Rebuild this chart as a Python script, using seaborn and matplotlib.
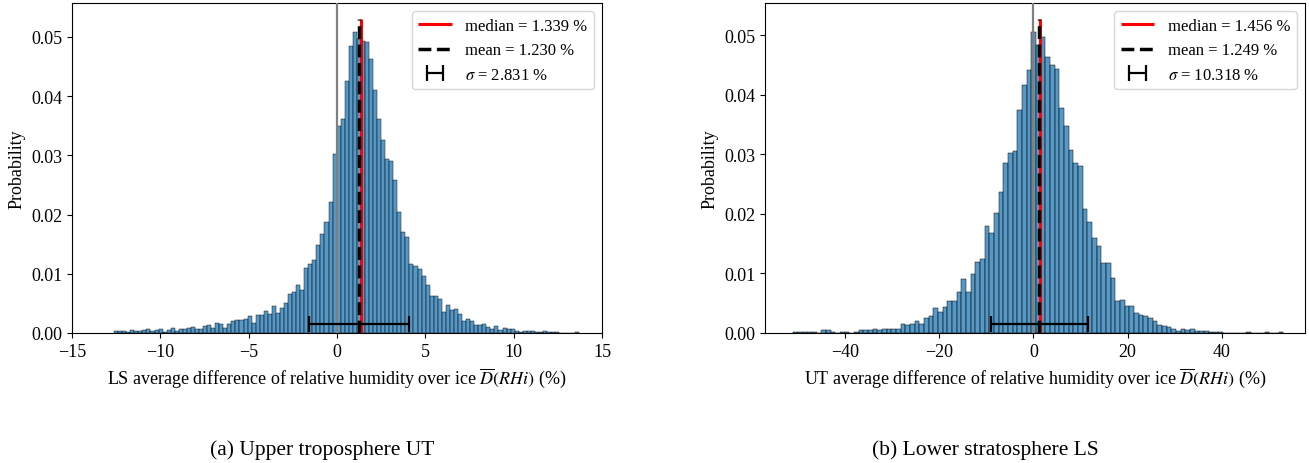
import numpy as np
import pandas as pd
import matplotlib
matplotlib.use("Agg")
import matplotlib.pyplot as plt
import seaborn as sns

# ---------------- data ----------------
# Left panel: probability per bin, 115 equal bins over left_range
left_range = (-12.62, 13.72)
left_heights = [
    0.0003, 0.0003, 0.0003, 0.0002, 0.0005, 0.0003, 0.0003, 0.00045, 0.0007, 0.00035,
    0.0005, 0.0007, 0.0002, 0.00045, 0.00085, 0.00035, 0.0006, 0.0007, 0.0008, 0.00095,
    0.0007, 0.0007, 0.0011, 0.0013, 0.0009, 0.0017, 0.0015, 0.0009, 0.0015, 0.0020,
    0.00225, 0.00225, 0.0024, 0.0029, 0.0017, 0.0030, 0.0030, 0.0038, 0.0032, 0.0045,
    0.0034, 0.0043, 0.0050, 0.0066, 0.0069, 0.0081, 0.0073, 0.0110, 0.0116, 0.0124,
    0.0149, 0.0167, 0.0188, 0.0222, 0.0303, 0.0350, 0.0362, 0.0426, 0.0485, 0.0508,
    0.0497, 0.0494, 0.0491, 0.0463, 0.0410, 0.0362, 0.0326, 0.0294, 0.0290, 0.0258,
    0.0205, 0.0170, 0.0162, 0.0117, 0.0113, 0.0108, 0.0096, 0.0081, 0.0063, 0.0063,
    0.0057, 0.0036, 0.0047, 0.0039, 0.0041, 0.0032, 0.0020, 0.0024, 0.0021, 0.0014,
    0.0014, 0.0015, 0.0010, 0.0007, 0.0011, 0.0005, 0.0008, 0.0007, 0.0006, 0.0003,
    0.0002, 0.0003, 0.0004, 0.0003, 0.0001, 0.0002, 0.0003, 0.0002, 0.0001, 0.0001,
    0.0, 0.0, 0.00005, 0.0, 0.0002,
]

# Right panel: probability per bin, 105 equal bins over right_range
right_range = (-50.96, 53.1)
right_heights = [
    0.0001, 0.0001, 0.0001, 0.0001, 0.0001, 0.0, 0.00045, 0.00045, 0.0001, 0.0,
    0.0001, 0.0001, 0.0, 0.0002, 0.00045, 0.00045, 0.00045, 0.0006, 0.00045, 0.0007,
    0.0006, 0.0006, 0.0006, 0.0015, 0.00135, 0.0015, 0.0020, 0.0015, 0.0026, 0.0028,
    0.0042, 0.0035, 0.0043, 0.0053, 0.0053, 0.0069, 0.0091, 0.0069, 0.0099, 0.0120,
    0.0124, 0.0180, 0.0168, 0.0202, 0.0236, 0.0285, 0.0303, 0.0305, 0.0374, 0.0417,
    0.0442, 0.0505, 0.0484, 0.0497, 0.0463, 0.0450, 0.0444, 0.0378, 0.0347, 0.0308,
    0.0285, 0.0280, 0.0209, 0.0186, 0.0160, 0.0146, 0.0118, 0.0118, 0.0092, 0.0054,
    0.0055, 0.0046, 0.0045, 0.0034, 0.0031, 0.0029, 0.0025, 0.0020, 0.0014, 0.0012,
    0.0010, 0.0007, 0.0004, 0.0006, 0.0005, 0.0006, 0.0004, 0.0004, 0.0004, 0.0002,
    0.0002, 0.0001, 0.0, 0.0, 0.0, 0.0, 0.0, 0.0002, 0.0, 0.0,
    0.0, 0.0002, 0.0, 0.0, 0.0002,
]

medians = [1.339, 1.456]
means = [1.230, 1.249]
sigmas = [2.831, 10.318]
sigma_bar_y = 0.0015
xlabels = [
    r"LS average difference of relative humidity over ice $\overline{D}(RHi)$ (%)",
    r"UT average difference of relative humidity over ice $\overline{D}(RHi)$ (%)",
]
captions = ["(a) Upper troposphere UT", "(b) Lower stratosphere LS"]
left_xlim = (-15, 15)
right_xlim = (-57.0, 57.7)

# ---------------- style ----------------
plt.rcParams["font.family"] = ["Liberation Serif", "DejaVu Serif"]
plt.rcParams["mathtext.fontset"] = "stix"
plt.rcParams["font.size"] = 13

fig = plt.figure(figsize=(13.09, 4.64), dpi=100)
W, H = 1309, 464
ax1 = fig.add_axes([72 / W, 1 - 334 / H, 530 / W, 330 / H])
ax2 = fig.add_axes([765 / W, 1 - 334 / H, 540 / W, 330 / H])


def draw(ax, heights, rng, median, mean, sigma, xlabel):
    edges = np.linspace(rng[0], rng[1], len(heights) + 1)
    centers = 0.5 * (edges[:-1] + edges[1:])
    df = pd.DataFrame({"x": centers, "w": np.asarray(heights, dtype=float)})
    sns.histplot(data=df, x="x", weights="w", bins=[float(e) for e in edges],
                 stat="count", ax=ax)
    ax.axvline(0, color="gray", lw=1.6, zorder=3)
    top = max(heights) * 1.045
    ax.vlines(median, 0, top, color="red", lw=2.2, zorder=4,
              label=f"median = {median:.3f} %")
    ax.vlines(mean, 0, top, color="black", lw=2.5, linestyles="--", zorder=5,
              label=f"mean = {mean:.3f} %")
    ax.errorbar(mean, sigma_bar_y, xerr=sigma, fmt="none", ecolor="black",
                elinewidth=1.6, capsize=6, capthick=1.6, zorder=6,
                label=r"$\sigma$ = " + f"{sigma:.3f} %")
    ax.set_ylabel("Probability")
    ax.set_xlabel(xlabel)
    ax.legend(loc="upper right", fontsize=12)


draw(ax1, left_heights, left_range, medians[0], means[0], sigmas[0], xlabels[0])
ax1.set_xlim(*left_xlim)
draw(ax2, right_heights, right_range, medians[1], means[1], sigmas[1], xlabels[1])
ax2.set_xlim(*right_xlim)

fig.text(322 / W, 1 - 450 / H, captions[0], ha="center", va="center", fontsize=15.5)
fig.text(985 / W, 1 - 450 / H, captions[1], ha="center", va="center", fontsize=15.5)

fig.savefig("out.png", dpi=100)
